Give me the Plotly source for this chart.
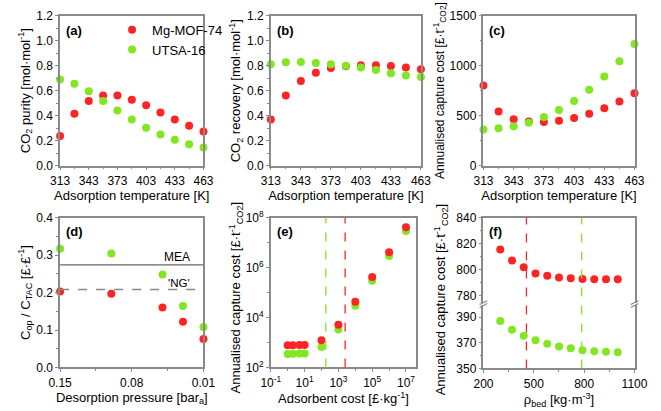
import plotly.graph_objects as go

# ---------------- data ----------------
T = [313, 328, 343, 358, 373, 388, 403, 418, 433, 448, 463]
purity_mof = [0.237, 0.416, 0.518, 0.562, 0.562, 0.528, 0.483, 0.426, 0.370, 0.319, 0.273]
purity_utsa = [0.689, 0.656, 0.595, 0.518, 0.442, 0.370, 0.304, 0.250, 0.207, 0.171, 0.146]
recovery_mof = [0.370, 0.562, 0.677, 0.743, 0.781, 0.795, 0.804, 0.804, 0.797, 0.786, 0.771]
recovery_utsa = [0.812, 0.827, 0.829, 0.822, 0.812, 0.799, 0.786, 0.766, 0.740, 0.722, 0.710]
cost_mof = [801, 542, 465, 442, 436, 449, 478, 519, 574, 641, 724]
cost_utsa = [362, 375, 394, 429, 487, 558, 647, 760, 891, 1045, 1218]

P_des = [0.15, 0.10, 0.05, 0.03, 0.01]
ratio_mof = [0.203, 0.197, 0.160, 0.122, 0.076]
ratio_utsa = [0.317, 0.304, 0.248, 0.164, 0.108]
MEA_ratio = 0.2735
NG_ratio = 0.208

ads_cost = [1, 2, 5, 10, 100, 1e3, 1e4, 1e5, 1e6, 1e7]
e_mof = [770, 775, 790, 800, 1230, 5070, 42600, 414000, 4.1e6, 4.1e7]
e_utsa = [350, 352, 360, 365, 660, 3320, 29600, 297000, 2.9e6, 2.9e7]
ads_cost_ref_utsa = 180
ads_cost_ref_mof = 2500

rho_bed = [300, 370, 440, 510, 580, 650, 720, 790, 860, 930, 1000]
f_mof = [815.3, 806.9, 801.7, 796.8, 795.0, 793.8, 793.1, 792.6, 792.3, 792.3, 792.3]
f_utsa = [387.0, 380.2, 375.5, 372.0, 369.2, 367.2, 365.7, 364.2, 363.5, 363.0, 362.7]
rho_ref_mof = 456
rho_ref_utsa = 785

names = ["Mg-MOF-74", "UTSA-16"]
RED = "#FF2424"
GREEN = "#82E622"

# ---------------- layout helpers ----------------
W, H = 661, 411
def fx(p):
    return p / W
def fy(p):
    return 1 - p / H

FONT = "Liberation Sans, Arial, sans-serif"
AX_COL = "#8a8a8a"
TICK_SIZE = 12
TITLE_SIZE = 13

def minor_ticks(**kw):
    d = dict(ticks="outside", ticklen=2, tickcolor=AX_COL)
    d.update(kw)
    return d

def axis_common(**kw):
    d = dict(showline=True, linecolor=AX_COL, linewidth=1.5, mirror=True,
             ticks="outside", ticklen=3, tickwidth=1, tickcolor=AX_COL,
             showgrid=False, zeroline=False,
             tickfont=dict(family=FONT, size=TICK_SIZE, color="black"),
             title_font=dict(family=FONT, size=TITLE_SIZE, color="black"))
    d.update(kw)
    return d

fig = go.Figure()
mk = dict(size=8, line=dict(width=0))

def add(x, y, color, xa, ya, name=None, show=False):
    fig.add_trace(go.Scatter(x=x, y=y, mode="markers", marker=dict(color=color, **mk),
                             xaxis=xa, yaxis=ya, name=name, showlegend=show,
                             cliponaxis=False))

# (a)
add(T, purity_mof, RED, "x", "y", names[0], True)
add(T, purity_utsa, GREEN, "x", "y", names[1], True)
# (b)
add(T, recovery_mof, RED, "x2", "y2")
add(T, recovery_utsa, GREEN, "x2", "y2")
# (c)
add(T, cost_mof, RED, "x3", "y3")
add(T, cost_utsa, GREEN, "x3", "y3")
# (d)
add(P_des, ratio_mof, RED, "x4", "y4")
add(P_des, ratio_utsa, GREEN, "x4", "y4")
# (e)
add(ads_cost, e_utsa, GREEN, "x5", "y5")
add(ads_cost, e_mof, RED, "x5", "y5")
# (f) bottom & top
add(rho_bed, f_utsa, GREEN, "x6", "y6")
add(rho_bed, f_mof, RED, "x7", "y7")

col1 = [fx(50), fx(199)]
col2 = [fx(269), fx(425)]
col2e = [fx(269), fx(420)]
col3 = [fx(490), fx(647)]
row1 = [fy(163), fy(7)]
row2 = [fy(373), fy(217)]

temp_x = dict(range=[313, 463], tickvals=[313, 343, 373, 403, 433, 463],
              minor=minor_ticks(tickvals=[328, 358, 388, 418, 448]),
              title=dict(text="Adsorption temperature [K]", standoff=0))
frac_y = dict(range=[0, 1.2], dtick=0.2, tickformat=".1f",
              minor=minor_ticks(dtick=0.1))

cost_title = "Annualised capture cost [£·t<sup>-1</sup><sub>CO2</sub>]"

layout = dict(
    width=W, height=H, margin=dict(l=0, r=0, t=0, b=0),
    paper_bgcolor="white", plot_bgcolor="white",
    font=dict(family=FONT, size=12, color="black"),
    xaxis=axis_common(domain=col1, anchor="y", **temp_x),
    yaxis=axis_common(domain=row1, anchor="x",
                      title=dict(text="CO<sub>2</sub> purity [mol·mol<sup>-1</sup>]", standoff=3), **frac_y),
    xaxis2=axis_common(domain=col2, anchor="y2", **temp_x),
    yaxis2=axis_common(domain=row1, anchor="x2",
                       title=dict(text="CO<sub>2</sub> recovery [mol·mol<sup>-1</sup>]", standoff=3), **frac_y),
    xaxis3=axis_common(domain=col3, anchor="y3", **temp_x),
    yaxis3=axis_common(domain=row1, anchor="x3", range=[0, 1500], dtick=500,
                       minor=minor_ticks(dtick=250)),
    xaxis4=axis_common(domain=col1, anchor="y4", range=[0.15, 0.01],
                       tickvals=[0.15, 0.08, 0.01], ticktext=["0.15", "0.08", "0.01"],
                       minor=minor_ticks(tickvals=[0.115, 0.045]),
                       title=dict(text="Desorption pressure [bar<sub>a</sub>]", standoff=0)),
    yaxis4=axis_common(domain=row2, anchor="x4", range=[0, 0.4], dtick=0.1, tickformat=".1f",
                       minor=minor_ticks(dtick=0.05),
                       title=dict(text="C<sub>op</sub> / C<sub>TAC</sub> [£·£<sup>-1</sup>]", standoff=3)),
    xaxis5=axis_common(domain=col2e, anchor="y5", type="log", range=[-1, 7.6],
                       tickvals=[1e-1, 1e1, 1e3, 1e5, 1e7],
                       ticktext=["10<sup>-1</sup>", "10<sup>1</sup>", "10<sup>3</sup>", "10<sup>5</sup>", "10<sup>7</sup>"],
                       minor=minor_ticks(tickvals=[1, 1e2, 1e4, 1e6]),
                       title=dict(text="Adsorbent cost [£·kg<sup>-1</sup>]", standoff=0)),
    yaxis5=axis_common(domain=row2, anchor="x5", type="log", range=[2, 8],
                       tickvals=[1e2, 1e4, 1e6, 1e8],
                       ticktext=["10<sup>2</sup>", "10<sup>4</sup>", "10<sup>6</sup>", "10<sup>8</sup>"],
                       minor=minor_ticks(tickvals=[1e3, 1e5, 1e7])),
    xaxis6=axis_common(domain=col3, anchor="y6", range=[200, 1100], tickvals=[200, 500, 800, 1100],
                       mirror=False,
                       minor=minor_ticks(tickvals=[350, 650, 950]),
                       title=dict(text="ρ<sub>bed</sub> [kg·m<sup>-3</sup>]", standoff=0)),
    yaxis6=axis_common(domain=[fy(374), fy(308)], anchor="x6", range=[350, 399.5],
                       tickvals=[350, 370, 390],
                       minor=minor_ticks(tickvals=[360, 380])),
    xaxis7=axis_common(domain=col3, anchor="y7", range=[200, 1100], side="top", mirror=False,
                       showticklabels=False, ticks=""),
    yaxis7=axis_common(domain=[fy(306), fy(217)], anchor="x7", range=[774, 840],
                       tickvals=[780, 800, 820, 840],
                       minor=minor_ticks(tickvals=[790, 810, 830])),
    legend=dict(x=fx(104), y=fy(6), xanchor="left", yanchor="top", bgcolor="rgba(0,0,0,0)",
                font=dict(family=FONT, size=13, color="black"), itemwidth=30, tracegroupgap=0),
)
fig.update_layout(**layout)

# rotated cost titles (c), (e), (f)
for px, py, sz in [(444, 85, 12), (233, 300, 13), (446, 302, 13)]:
    fig.add_annotation(text=cost_title, x=fx(px), y=fy(py), xref="paper", yref="paper",
                       xanchor="center", yanchor="middle", textangle=-90, showarrow=False,
                       font=dict(family=FONT, size=sz, color="black"))

# panel labels
labels = [("(a)", 54, 12), ("(b)", 273, 12), ("(c)", 494, 12),
          ("(d)", 54, 222), ("(e)", 273, 222), ("(f)", 494, 222)]
for t, px, py in labels:
    fig.add_annotation(text=f"<b>{t}</b>", x=fx(px), y=fy(py), xref="paper", yref="paper",
                       xanchor="left", yanchor="top", showarrow=False,
                       font=dict(family=FONT, size=13, color="black"))

# (d) reference lines
fig.add_shape(type="line", xref="x4 domain", yref="y4", x0=0, x1=1, y0=MEA_ratio, y1=MEA_ratio,
              line=dict(color="#666666", width=1.3))
fig.add_shape(type="line", xref="x4 domain", yref="y4", x0=0, x1=1, y0=NG_ratio, y1=NG_ratio,
              line=dict(color="#888888", width=1.3, dash="dash"))
fig.add_annotation(text="MEA", x=0.92, y=MEA_ratio, xref="x4 domain", yref="y4", xanchor="right",
                   yanchor="bottom", showarrow=False, font=dict(family=FONT, size=12), yshift=-1)
fig.add_annotation(text="'NG'", x=0.92, y=NG_ratio, xref="x4 domain", yref="y4", xanchor="right",
                   yanchor="bottom", showarrow=False, font=dict(family=FONT, size=11.5), yshift=-1)

# (e) reference lines
for v, c in [(ads_cost_ref_utsa, GREEN), (ads_cost_ref_mof, RED)]:
    fig.add_shape(type="line", xref="x5", yref="y5 domain", x0=v, x1=v, y0=0, y1=1,
                  line=dict(color=c, width=1.3, dash="dash"))
# (f) reference lines spanning the broken axis
for v, c in [(rho_ref_mof, RED), (rho_ref_utsa, GREEN)]:
    fig.add_shape(type="line", xref="x6", yref="paper", x0=v, x1=v, y0=fy(374), y1=fy(217),
                  line=dict(color=c, width=1.3, dash="dash"))

# axis break marks
for px in (490, 647):
    for dy in (-1.5, 1.5):
        fig.add_shape(type="line", xref="paper", yref="paper",
                      x0=fx(px - 4), x1=fx(px + 4), y0=fy(307 + dy + 2), y1=fy(307 + dy - 2),
                      line=dict(color=AX_COL, width=1.2))

fig.write_html("out.html")
